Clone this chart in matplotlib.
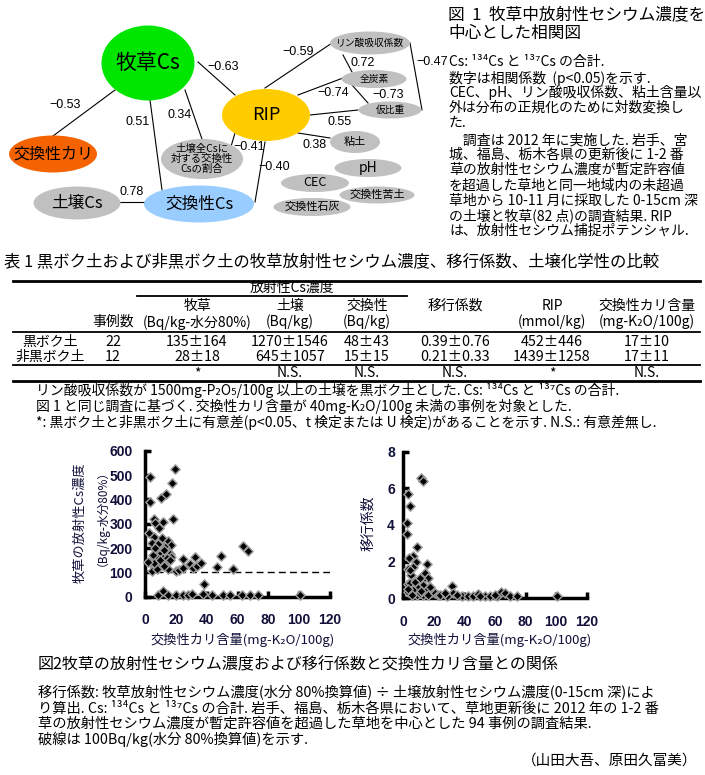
import matplotlib
matplotlib.use('Agg')
import matplotlib.pyplot as plt
from matplotlib.patches import Ellipse

plt.rcParams['font.family'] = ['Noto Sans CJK JP', 'DejaVu Sans']

# ---- Fig.1 correlation diagram data ----
edge_from = ['牧草Cs', '牧草Cs', '牧草Cs', '牧草Cs', 'RIP', 'RIP', '土壌Cs',
             'RIP', 'リン酸吸収係数', '全炭素', 'RIP', 'RIP', 'RIP', 'リン酸吸収係数']
edge_to = ['交換性カリ', 'RIP', '交換性Cs', '割合', '割合', '交換性Cs', '交換性Cs',
           'リン酸吸収係数', '全炭素', '仮比重', '全炭素', '仮比重', '粘土', '仮比重']
edge_r = [-0.53, -0.63, 0.51, 0.34, -0.41, -0.40, 0.78,
          -0.59, 0.72, -0.73, -0.74, 0.55, 0.38, -0.47]

# ---- Table 1 data ----
soil_types = ['黒ボク土', '非黒ボク土']
n_cases = [22, 12]
grass_mean = [135, 28]
grass_sd = [164, 18]
soil_mean = [1270, 645]
soil_sd = [1546, 1057]
exch_mean = [48, 15]
exch_sd = [43, 15]
tf_mean = [0.39, 0.21]
tf_sd = [0.76, 0.33]
rip_mean = [452, 1439]
rip_sd = [446, 1258]
k_mean = [17, 17]
k_sd = [10, 11]
signif = ['*', 'N.S.', 'N.S.', 'N.S.', '*', 'N.S.']

# ---- Fig.2 scatter data (exchangeable K2O, grass Cs / transfer factor) ----
cs_k = [3.2, 19.5, 17.7, 3.2, 10.2, 13.6, 5.8, 11.5, 18, 6.5, 9.3, 2.8, 5.8, 9.7,
        14.7, 4.3, 16.7, 7.1, 13, 9.7, 15.1, 16, 17, 3.2, 11.5, 13.4, 8, 10.2, 6.5,
        4.7, 8, 15.1, 19.9, 22.3, 24.4, 24.8, 29.2, 32.4, 31.3, 33.5, 36.3, 46.5,
        49.3, 56.9, 63.4, 67, 38.1, 7.5, 12, 5, 14, 8.5, 11, 6, 16.5, 10, 12.5, 6.5,
        1.7, 8.6, 11.9, 14.7, 19.9, 24.4, 27.7, 30.3, 37.8, 43.3, 50.8, 55.1, 62.7,
        68.1, 73.5, 100.5]
cs_grass = [490, 524, 466, 390, 404, 421, 318, 308, 318, 302, 281, 260, 247, 226,
            229, 219, 212, 192, 205, 175, 185, 175, 165, 144, 158, 144, 137, 130, 123,
            105, 115, 113, 105, 110, 155, 117, 133, 164, 119, 126, 140, 121,
            169, 113, 210, 189, 52, 160, 190, 170, 160, 215, 240, 140, 150, 150, 125, 200,
            144, 8, 22, 8, 8, 8, 8, 10, 12, 8, 8, 9, 8,
            7, 7, 8]

tf_k = [11.4, 13.1, 3.3, 4.4, 2.2, 2.2, 9.2, 6.1, 3.9, 8.3, 15.7, 6.5, 3.3, 4.8,
        14.2, 16.4, 12, 6.5, 3.3, 31.7, 32.7, 4.4, 7.7, 10.9, 13.1, 9.8, 6.5, 15.3,
        18.6, 3.3, 8.8, 13.1, 16.4, 20.7, 5.5, 10.9, 22.9, 24, 28.4, 38.2, 42.5,
        45.8, 49.1, 53.5, 56.7, 61.1, 64, 66.6, 69.8, 74.2, 100.4, 27, 35, 60, 50,
        4.4, 3.3, 11.5, 17.5]
tf_val = [6.55, 6.42, 5.69, 5.04, 4.12, 3.49, 2.78, 2.31, 2.18, 1.96, 1.87, 1.72,
          1.58, 1.27, 1.36, 1.09, 1.0, 0.91, 0.78, 0.67, 0.27, 0.82, 0.91, 1.09,
          0.73, 0.55, 0.45, 0.45, 0.36, 0.36, 0.18, 0.18, 0.18, 0.27, 0.18, 0.27,
          0.18, 0.2, 0.15, 0.15, 0.1, 0.15, 0.22, 0.1, 0.15, 0.1, 0.35, 0.3, 0.12,
          0.1, 0.1, 0.3, 0.2, 0.18, 0.12, 1.55, 0.5, 0.4, 0.6]

W, H = 705, 775
fig = plt.figure(figsize=(W / 100, H / 100), dpi=100)
ax = fig.add_axes([0, 0, 1, 1])
ax.set_xlim(0, W)
ax.set_ylim(H, 0)
ax.axis('off')

NUM = ['Liberation Sans', 'DejaVu Sans']
GRAY = '#c0c0c0'

# node layout: cx, cy, w, h, colour, label, fontsize
nodes = {
    '牧草Cs': (148, 63, 93, 75, '#00e600', '牧草Cs', 15),
    '交換性カリ': (53, 154, 88, 37, '#f56200', '交換性カリ', 11.5),
    'RIP': (266, 115, 88, 52, '#ffcc00', 'RIP', 13),
    '交換性Cs': (199, 204, 110, 37, '#99ccff', '交換性Cs', 12),
    '土壌Cs': (77, 203, 87, 33, GRAY, '土壌Cs', 12),
    '割合': (202, 159, 82, 40, GRAY, '土壌全Csに\n対する交換性\nCsの割合', 7.5),
    'リン酸吸収係数': (370, 43, 80, 23, GRAY, 'リン酸吸収係数', 7),
    '全炭素': (374, 79, 65, 18, GRAY, '全炭素', 7),
    '仮比重': (390, 110, 63, 17, GRAY, '仮比重', 7),
    '粘土': (355, 142, 50, 22, GRAY, '粘土', 8),
    'pH': (368, 168, 67, 18, GRAY, 'pH', 10),
    'CEC': (315, 183, 68, 18, GRAY, 'CEC', 9),
    '交換性苦土': (377, 195, 75, 17, GRAY, '交換性苦土', 8),
    '交換性石灰': (312, 207, 77, 18, GRAY, '交換性石灰', 8),
}
# line ends and label position for each edge
edge_layout = [
    (115, 90, 53, 136, 65, 105),
    (198, 62, 235, 95, 223, 67),
    (150, 100, 162, 190, 138, 122),
    (185, 90, 203, 142, 180, 115),
    (235, 133, 230, 150, 249, 147),
    (265, 142, 255, 202, 274, 167),
    (120, 202, 147, 202, 132, 192),
    (265, 88, 332, 43, 298, 52),
    (343, 55, 352, 72, 363, 63),
    (352, 85, 368, 103, 388, 95),
    (298, 95, 343, 78, 333, 93),
    (310, 115, 358, 110, 340, 122),
    (298, 133, 330, 138, 315, 145),
    (410, 43, 422, 110, 432, 62),
]

for (x1, y1, x2, y2, lx, ly), r in zip(edge_layout, edge_r):
    ax.plot([x1, x2], [y1, y2], color='black', lw=0.8, zorder=1)
    ax.text(lx, ly, f'{r:.2f}'.replace('-', '\u2212'), fontsize=9, family=NUM,
            ha='center', va='center', zorder=3)

for key, (cx, cy, w, h, col, lab, fs) in nodes.items():
    ax.add_patch(Ellipse((cx, cy), w, h, facecolor=col, edgecolor='none', zorder=2))
    ax.text(cx, cy, lab, fontsize=fs, ha='center', va='center', zorder=3,
            linespacing=1.05)

# Fig.1 caption
ax.text(448, 15, '図  1  牧草中放射性セシウム濃度を', fontsize=12, va='center')
ax.text(448, 33, '中心とした相関図', fontsize=12, va='center')
cap1 = ['Cs: ¹³⁴Cs と ¹³⁷Cs の合計.',
        '数字は相関係数  (p<0.05)を示す.',
        'CEC、pH、リン酸吸収係数、粘土含量以',
        '外は分布の正規化のために対数変換し',
        'た.',
        '　調査は 2012 年に実施した. 岩手、宮',
        '城、福島、栃木各県の更新後に 1-2 番',
        '草の放射性セシウム濃度が暫定許容値',
        'を超過した草地と同一地域内の未超過',
        '草地から 10-11 月に採取した 0-15cm 深',
        'の土壌と牧草(82 点)の調査結果. RIP',
        'は、放射性セシウム捕捉ポテンシャル.']
cap1_y = [62, 78, 93, 108, 123, 140, 155, 170, 186, 201, 216, 231]
for s, y in zip(cap1, cap1_y):
    ax.text(449, y, s, fontsize=10, va='center')

# ---- Table 1 ----
ax.text(4, 262, '表 1 黒ボク土および非黒ボク土の牧草放射性セシウム濃度、移行係数、土壌化学性の比較',
        fontsize=11.8, va='center')
ax.plot([13, 700], [281, 281], color='black', lw=2)
ax.plot([137, 407], [296, 296], color='black', lw=1.3)
ax.plot([13, 700], [332, 332], color='black', lw=1.3)
ax.plot([13, 700], [365, 365], color='black', lw=1.3)
ax.plot([13, 700], [381, 381], color='black', lw=2)

col_x = [113, 197, 290, 367, 455, 552, 647]
ax.text(292, 288, '放射性Cs濃度', fontsize=10, ha='center', va='center')
head2 = ['', '牧草', '土壌', '交換性', '移行係数', 'RIP', '交換性カリ含量']
head3 = ['事例数', '(Bq/kg-水分80%)', '(Bq/kg)', '(Bq/kg)', '', '(mmol/kg)',
         '(mg-K₂O/100g)']
for x, a, b in zip(col_x, head2, head3):
    ax.text(x, 306, a, fontsize=10, ha='center', va='center')
    ax.text(x, 322, b, fontsize=10, ha='center', va='center')

for i, y in enumerate([342, 357]):
    cells = [str(n_cases[i]),
             f'{grass_mean[i]}±{grass_sd[i]}',
             f'{soil_mean[i]}±{soil_sd[i]}',
             f'{exch_mean[i]}±{exch_sd[i]}',
             f'{tf_mean[i]:.2f}±{tf_sd[i]:.2f}',
             f'{rip_mean[i]}±{rip_sd[i]}',
             f'{k_mean[i]}±{k_sd[i]}']
    ax.text(50, y, soil_types[i], fontsize=10, ha='center', va='center')
    for x, c in zip(col_x, cells):
        ax.text(x, y, c, fontsize=10.3, ha='center', va='center')
for x, s in zip(col_x[1:], signif):
    ax.text(x, 373, s, fontsize=10, ha='center', va='center')

notes1 = ['リン酸吸収係数が 1500mg-P₂O₅/100g 以上の土壌を黒ボク土とした. Cs: ¹³⁴Cs と ¹³⁷Cs の合計.',
          '図 1 と同じ調査に基づく. 交換性カリ含量が 40mg-K₂O/100g 未満の事例を対象とした.',
          '*: 黒ボク土と非黒ボク土に有意差(p<0.05、t 検定または U 検定)があることを示す. N.S.: 有意差無し.']
for s, y in zip(notes1, [390, 406, 422]):
    ax.text(36, y, s, fontsize=10, va='center')

# ---- Fig.2 scatter panels ----
TICKC = '#10103a'


def panel(rect, xs, ys, ymax, ystep, ypad):
    a = fig.add_axes(rect)
    a.scatter(xs, ys, marker='D', s=22, facecolor='black', edgecolor='#9a9a9a',
              linewidths=1.1, zorder=3, clip_on=False)
    a.set_xlim(0, 120)
    a.set_ylim(0, ymax)
    a.set_xticks(range(0, 121, 20))
    a.set_yticks([v * ystep for v in range(int(ymax / ystep) + 1)])
    for sp in ['top', 'right']:
        a.spines[sp].set_visible(False)
    for sp in ['left', 'bottom']:
        a.spines[sp].set_linewidth(2.5)
    a.tick_params(direction='in', length=4, width=2.5, labelsize=10, colors='black',
                  labelcolor=TICKC)
    a.tick_params(axis='x', pad=12)
    a.tick_params(axis='y', pad=ypad)
    for lab in a.get_xticklabels() + a.get_yticklabels():
        lab.set_family(NUM)
        lab.set_fontweight('bold')
    a.patch.set_alpha(0)
    return a


ax1 = panel([145 / W, 1 - 596.7 / H, 185 / W, 146 / H], cs_k, cs_grass, 600, 100, 9)
ax1.axhline(100, color='black', lw=1, ls=(0, (5, 3)), zorder=2)
ax2 = panel([403.3 / W, 1 - 598.3 / H, 183.4 / W, 146.6 / H], tf_k, tf_val, 8, 2, 6)

ax.text(80, 523, '牧草の放射性Cs濃度', rotation=90, fontsize=9.5, ha='center',
        va='center', color=TICKC)
ax.text(96, 512, '（Bq/kg-水分80%）', rotation=90, fontsize=8.5, ha='center',
        va='center', color=TICKC)
ax.text(368, 523, '移行係数', rotation=90, fontsize=10, ha='center', va='center',
        color=TICKC)
for cx in [243, 500]:
    ax.text(cx, 640, '交換性カリ含量(mg-K₂O/100g)', fontsize=9.5, ha='center',
            va='center', color=TICKC)

ax.text(38, 665, '図2牧草の放射性セシウム濃度および移行係数と交換性カリ含量との関係',
        fontsize=11.5, va='center')
notes2 = ['移行係数: 牧草放射性セシウム濃度(水分 80%換算値) ÷ 土壌放射性セシウム濃度(0-15cm 深)によ',
          'り算出. Cs: ¹³⁴Cs と ¹³⁷Cs の合計. 岩手、福島、栃木各県において、草地更新後に 2012 年の 1-2 番',
          '草の放射性セシウム濃度が暫定許容値を超過した草地を中心とした 94 事例の調査結果.',
          '破線は 100Bq/kg(水分 80%換算値)を示す.']
for s, y in zip(notes2, [693, 709, 724, 739]):
    ax.text(38, y, s, fontsize=10.3, va='center')
ax.text(697, 761, '（山田大吾、原田久富美）', fontsize=10.5, ha='right', va='center')

fig.savefig('out.png', dpi=100)
